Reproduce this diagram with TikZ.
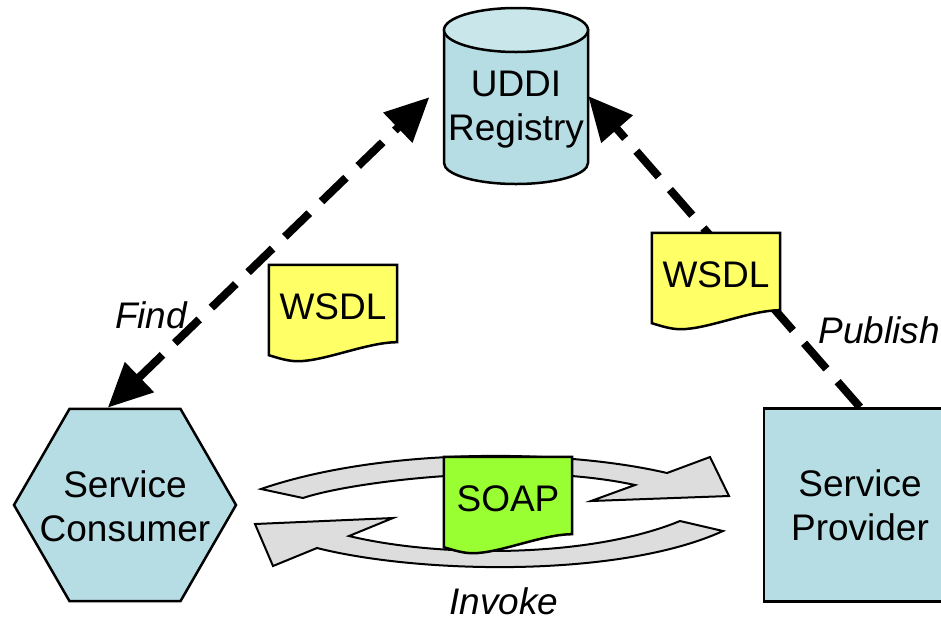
\documentclass[tikz,border=0pt]{standalone}
\usepackage{fontspec}
\setmainfont{Liberation Sans}
\usetikzlibrary{arrows.meta, calc, positioning, shapes.geometric}
\definecolor{bodycolor}{RGB}{183,221,228}
\definecolor{lidcolor}{RGB}{201,231,235}
\definecolor{wsdlcolor}{RGB}{255,255,102}
\definecolor{soapcolor}{RGB}{153,255,51}
\definecolor{loopcolor}{RGB}{221,221,221}
\tikzset{
	every node/.style={font=\fontsize{37}{44}\selectfont, align=center, inner sep=0pt},
	outline/.style={draw=black, line width=2.5pt},
	axis/.style={line width=8pt, dash pattern=on 34pt off 17pt, -{Triangle[length=44pt,width=40pt]}},
	docbox/.style={minimum width=128pt, minimum height=77pt},
	verb/.style={font=\fontsize{37}{44}\selectfont\itshape},
}
% document sheet with a wavy lower edge
\newcommand{\sheet}[4]{
	\node[docbox] (#1) at (#2) {};
	\draw[outline, fill=#3] (#1.north west) -- (#1.north east) -- (#1.south east)
		.. controls +(-30,0) and +(27,0) .. ($(#1.south west)+(29,19)$)
		.. controls +(-10,0) and +(10,3) .. ($(#1.south west)+(0,13)$) -- cycle;
	\node[yshift=-3pt] (#1-text) at (#1) {#4};
}

\begin{document}
\begin{tikzpicture}[x=1pt,y=-1pt]
\clip (0,0) rectangle (941,619);

% Registry drum
\node[minimum width=144pt, minimum height=176pt] (uddi) at (516,96) {};
\draw[outline, fill=bodycolor] (444,30) -- (444,163) arc[start angle=180, end angle=360, x radius=72pt, y radius=21pt] -- (588,30) -- cycle;
\draw[outline, fill=lidcolor] (516,30) ellipse [x radius=72pt, y radius=22pt];
\node (uddi-text) at (516,110) {UDDI\\Registry};

\node[regular polygon, regular polygon sides=6, outline, fill=bodycolor, minimum size=222pt] (consumer) at (125,505) {};
\node (consumer-text) at (125,506) {Service\\Consumer};
\node[rectangle, outline, fill=bodycolor, minimum width=192pt, minimum height=193pt] (provider) at (860,505) {Service\\Provider};

% Dashed arrows
\draw[axis, {Triangle[length=44pt,width=40pt]}-{Triangle[length=44pt,width=40pt]}, shorten >=20pt] (consumer.100) -- (uddi.170);
\draw[axis] (provider.north) -- (uddi.0);

% Invoke loop
\draw[outline, line width=2pt, fill=loopcolor] (261,489) -- (303,498)
	.. controls (350,482) and (520,460) .. (635,485) -- (591,501) -- (729,496) -- (710,457) -- (667,473)
	.. controls (560,448) and (380,448) .. cycle;
\draw[outline, line width=2pt, fill=loopcolor] (255,524) -- (393,518) -- (349,536)
	.. controls (440,558) and (590,558) .. (680,521) -- (723,531)
	.. controls (620,578) and (420,574) .. (317,548) -- (273,566) -- cycle;

\sheet{wsdl-find}{333,303.5}{wsdlcolor}{WSDL}
\sheet{wsdl-publish}{716,271.5}{wsdlcolor}{WSDL}
\sheet{soap}{508,495.5}{soapcolor}{SOAP}

\node[verb] (find) at (151,315) {Find};
\node[verb] (publish) at (879,330) {Publish};
\node[verb] (invoke) at (504,601) {Invoke};

\end{tikzpicture}
\end{document}
